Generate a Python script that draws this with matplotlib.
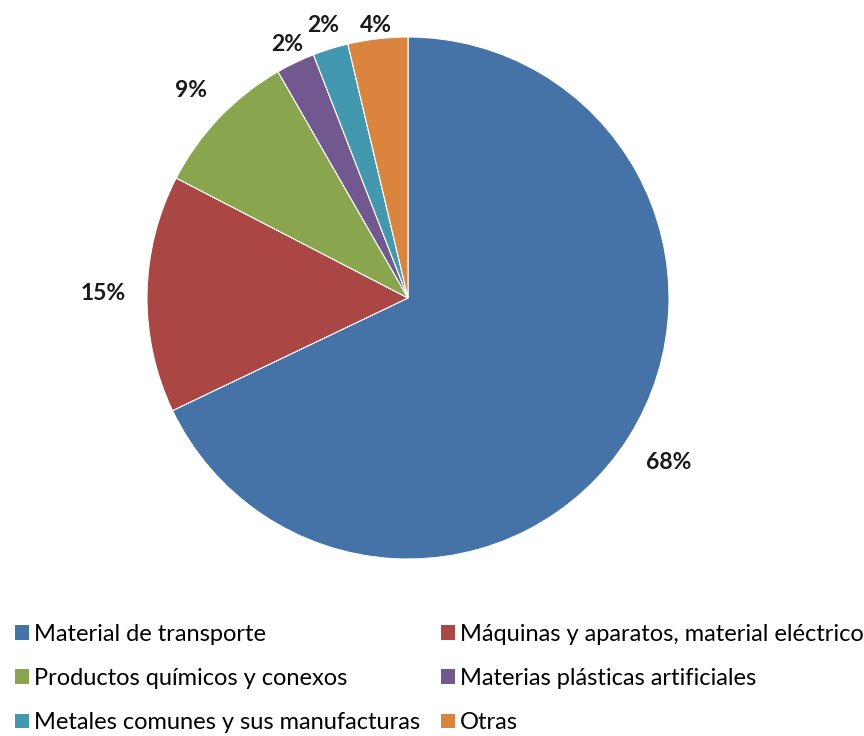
import numpy as np
import matplotlib
matplotlib.use("Agg")
import matplotlib.pyplot as plt
from matplotlib.patches import Patch

categories = ["Material de transporte", "Máquinas y aparatos, material eléctrico",
              "Productos químicos y conexos", "Materias plásticas artificiales",
              "Metales comunes y sus manufacturas", "Otras"]
values = [67.9, 14.7, 9.1, 2.4, 2.2, 3.7]
labels = ["68%", "15%", "9%", "2%", "2%", "4%"]
colors = ["#4572A7", "#AA4643", "#89A54E", "#71588F", "#4198AF", "#DB843D"]
label_dist = [1.18, 1.17, 1.15, 1.075, 1.095, 1.05]

plt.rcParams['font.family'] = ['Lato', 'DejaVu Sans']

fig = plt.figure(figsize=(8.64, 7.36), dpi=100)
W, H = 864, 736
cx, cy, r = 408, 298, 261
ax = fig.add_axes([(cx - r) / W, (H - cy - r) / H, 2 * r / W, 2 * r / H])
wedges, _ = ax.pie(values, colors=colors, startangle=90, counterclock=False,
                   radius=1.0, wedgeprops=dict(edgecolor='white', linewidth=0.8))
for w, lab, d in zip(wedges, labels, label_dist):
    ang = np.deg2rad((w.theta1 + w.theta2) / 2)
    ax.text(d * np.cos(ang), d * np.sin(ang), lab, ha='center', va='center',
            fontsize=16.5, fontweight='bold', color='#1a1a1a')
ax.set_xlim(-1, 1)
ax.set_ylim(-1, 1)
ax.set_aspect('equal')
ax.axis('off')

# row-major order for a 2-column legend
order = [0, 2, 4, 1, 3, 5]
handles = [Patch(facecolor=colors[i], edgecolor='none') for i in order]
leg_labels = [categories[i] for i in order]
fig.legend(handles, leg_labels, loc='upper left',
           bbox_to_anchor=(15 / W, (H - 624) / H),
           bbox_transform=fig.transFigure, ncol=2, frameon=False, fontsize=17,
           handlelength=0.58, handleheight=0.58, handletextpad=0.22, columnspacing=0.9,
           labelspacing=0.98, borderaxespad=0, borderpad=0)

fig.savefig("out.png", dpi=100, facecolor='white')
